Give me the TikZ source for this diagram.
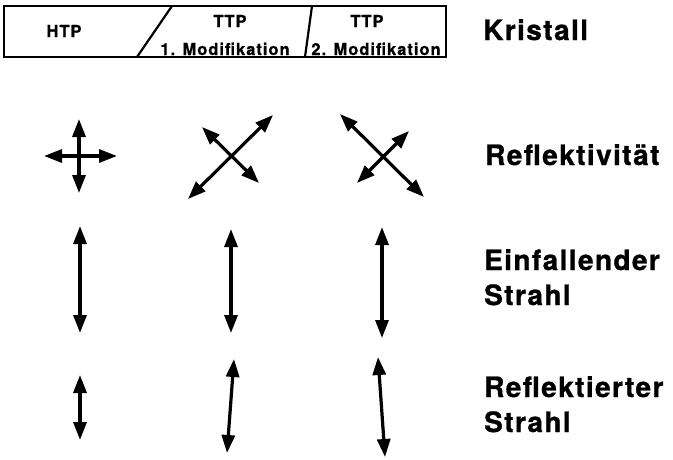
\documentclass[tikz,border=0pt]{standalone}
\usepackage{fontspec}
\setmainfont{TeX Gyre Heros}
\usetikzlibrary{arrows.meta}
\tikzset{
  dblarrow/.style={line width=3.2pt, {Triangle[length=18pt,width=13pt]}-{Triangle[length=18pt,width=13pt]}},
  boxline/.style={line width=2.2pt},
  biglabel/.style={anchor=base west, inner sep=0pt, font=\fontsize{28}{35}\selectfont\bfseries\addfontfeatures{LetterSpace=5,FakeBold=1}, align=left},
  boxtext/.style={anchor=base, inner sep=0pt, font=\fontsize{16.5}{18}\selectfont\bfseries\addfontfeatures{LetterSpace=6,FakeBold=0.8}}
}
\begin{document}
\begin{tikzpicture}[x=1pt,y=-1pt]
\useasboundingbox (0,0) rectangle (673,459);
% crystal box
\draw[boxline] (4,6) rectangle (446,57);
\draw[boxline] (172,6) -- (137,57);
\draw[boxline] (312,6) -- (305,57);
\node[boxtext] (htp) at (64,37) {HTP};
\node[boxtext] (ttp1) at (230,27) {TTP};
\node[boxtext] (mod1) at (225,55) {1. Modifikation};
\node[boxtext] (ttp2) at (367,27) {TTP};
\node[boxtext] (mod2) at (376,55) {2. Modifikation};
% labels
\node[biglabel] (kris) at (483,40) {Kristall};
\node[biglabel] (refl) at (485,165) {Reflektivität};
\node[biglabel] (einf) at (484,305) {Einfallender\\Strahl};
\node[biglabel] (rfst) at (484,432) {Reflektierter\\Strahl};
% reflectivity
\coordinate (a1t) at (79,119); \coordinate (a1b) at (79,193);
\coordinate (a1l) at (44,156); \coordinate (a1r) at (117,156);
\draw[dblarrow] (a1t) -- (a1b);
\draw[dblarrow] (a1l) -- (a1r);
\coordinate (b1s) at (188,199); \coordinate (b1n) at (273,115);
\coordinate (b2n) at (202,127); \coordinate (b2s) at (259,183);
\draw[dblarrow] (b1s) -- (b1n);
\draw[dblarrow] (b2n) -- (b2s);
\coordinate (c1n) at (340,114); \coordinate (c1s) at (424,197);
\coordinate (c2s) at (357,183); \coordinate (c2n) at (409,131);
\draw[dblarrow] (c1n) -- (c1s);
\draw[dblarrow] (c2s) -- (c2n);
% incident beam
\coordinate (d1t) at (80,226); \coordinate (d1b) at (80,333);
\coordinate (d2t) at (231,229); \coordinate (d2b) at (231,333);
\coordinate (d3t) at (382,227); \coordinate (d3b) at (382,338);
\draw[dblarrow] (d1t) -- (d1b);
\draw[dblarrow] (d2t) -- (d2b);
\draw[dblarrow] (d3t) -- (d3b);
% reflected beam
\coordinate (e1t) at (80,375); \coordinate (e1b) at (80,440);
\coordinate (e2t) at (234,359); \coordinate (e2b) at (227,453);
\coordinate (e3t) at (378,357); \coordinate (e3b) at (385,457);
\draw[dblarrow] (e1t) -- (e1b);
\draw[dblarrow] (e2t) -- (e2b);
\draw[dblarrow] (e3t) -- (e3b);
\end{tikzpicture}
\end{document}
